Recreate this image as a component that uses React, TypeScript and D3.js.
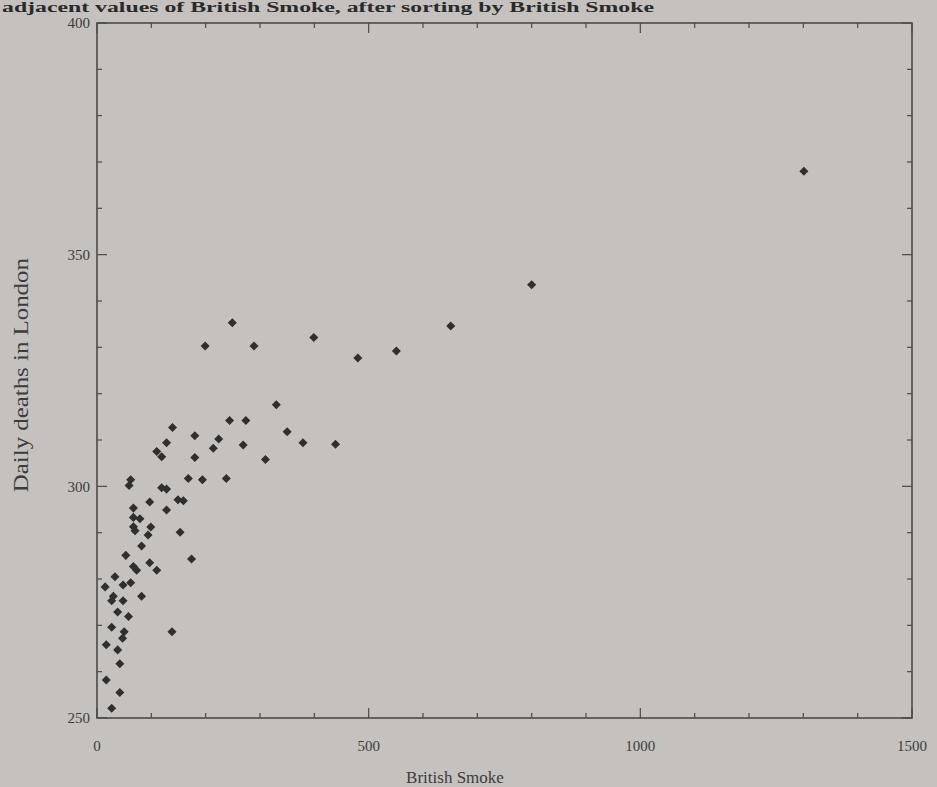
import React from 'react';
import * as d3 from 'd3';

// British Smoke (x) vs daily deaths in London (y)
const smoke = [
  1301, 800, 651, 249, 199, 289, 399, 480, 551, 330, 244, 274, 139, 350, 180, 224,
  128, 214, 269, 379, 439, 110, 119, 180, 310, 168, 194, 238, 62, 59, 119, 128,
  97, 149, 159, 128, 67, 67, 79, 67, 70, 99, 94, 153, 82, 53, 174, 97,
  110, 67, 73, 33, 15, 48, 62, 82, 30, 27, 48, 38, 58, 27, 50, 47,
  138, 17, 38, 42, 17, 42, 27
];
const deaths = [
  368.0, 343.5, 334.6, 335.3, 330.3, 330.3, 332.1, 327.7, 329.2, 317.6, 314.2, 314.2, 312.7, 311.8, 310.9, 310.2,
  309.4, 308.2, 308.9, 309.4, 309.1, 307.5, 306.4, 306.2, 305.8, 301.7, 301.4, 301.7, 301.4, 300.2, 299.7, 299.4,
  296.6, 297.1, 296.9, 294.9, 295.3, 293.3, 293.0, 291.3, 290.4, 291.2, 289.5, 290.1, 287.1, 285.1, 284.3, 283.5,
  281.9, 282.7, 281.9, 280.5, 278.3, 278.7, 279.2, 276.3, 276.3, 275.3, 275.3, 272.9, 271.9, 269.6, 268.6, 267.2,
  268.6, 265.8, 264.7, 261.7, 258.2, 255.5, 252.1
];

const xTicks = [0, 500, 1000, 1500];
const yTicks = [250, 300, 350, 400];
const xLabel = 'British Smoke';
const yLabel = 'Daily deaths in London';
const caption = 'adjacent values of British Smoke, after sorting by British Smoke';

const W = 937;
const H = 787;
const left = 97, right = 912, top = 23, bottom = 718;
const ink = '#3c3c3c';
const font = '"Liberation Serif", "DejaVu Serif", serif';

const App = () => {
  const x = d3.scaleLinear().domain([0, 1500]).range([left, right]);
  const y = d3.scaleLinear().domain([250, 400]).range([bottom, top]);

  const xMinor = x.ticks(15);
  const yMinor = y.ticks(15);
  const diamond = d3.symbol().type(d3.symbolDiamond2).size(52);

  const points = smoke.map((s, i) => ({ s, d: deaths[i] }));

  return (
    <>
      <style>{'body{margin:0;background:#c5c1be}'}</style>
      <svg width={W} height={H} style={{ display: 'block' }}>
        <rect width={W} height={H} fill="#c5c1be" />

        {/* caption line from the page above the plot */}
        <text x={2} y={12} fontFamily={font} fontWeight="bold" fontSize={14}
          textLength={652} lengthAdjust="spacingAndGlyphs" fill="#2a2a2a">
          {caption}
        </text>

        {/* frame */}
        <rect x={left} y={top} width={right - left} height={bottom - top}
          fill="none" stroke="#4a4a4a" strokeWidth={1.6} />

        {/* x ticks, bottom and top, pointing in */}
        {xMinor.map(t => {
          const len = xTicks.includes(t) ? 10 : 5;
          return (
            <g key={'x' + t}>
              <line x1={x(t)} x2={x(t)} y1={bottom} y2={bottom - len} stroke="#4a4a4a" strokeWidth={1.2} />
              <line x1={x(t)} x2={x(t)} y1={top} y2={top + len} stroke="#4a4a4a" strokeWidth={1.2} />
            </g>
          );
        })}

        {/* y ticks, left and right, pointing in */}
        {yMinor.map(t => {
          const len = yTicks.includes(t) ? 10 : 5;
          return (
            <g key={'y' + t}>
              <line x1={left} x2={left + len} y1={y(t)} y2={y(t)} stroke="#4a4a4a" strokeWidth={1.2} />
              <line x1={right} x2={right - len} y1={y(t)} y2={y(t)} stroke="#4a4a4a" strokeWidth={1.2} />
            </g>
          );
        })}

        {xTicks.map(t => (
          <text key={'xl' + t} x={x(t)} y={751} textAnchor="middle"
            fontFamily={font} fontSize={15} fill={ink}>{t}</text>
        ))}
        {yTicks.map(t => (
          <text key={'yl' + t} x={90} y={y(t)} dy="0.35em" textAnchor="end"
            fontFamily={font} fontSize={15} fill={ink}>{t}</text>
        ))}

        <text x={455} y={783} textAnchor="middle" fontFamily={font} fontSize={17} fill={ink}>
          {xLabel}
        </text>
        <text transform={`translate(28 ${y(324)}) rotate(-90)`} textAnchor="middle"
          fontFamily={font} fontSize={20} textLength={234} lengthAdjust="spacingAndGlyphs" fill={ink}>
          {yLabel}
        </text>

        {points.map((p, i) => (
          <path key={i} d={diamond()} transform={`translate(${x(p.s)} ${y(p.d)})`} fill="#2f2f2f" />
        ))}
      </svg>
    </>
  );
};

export default App;
